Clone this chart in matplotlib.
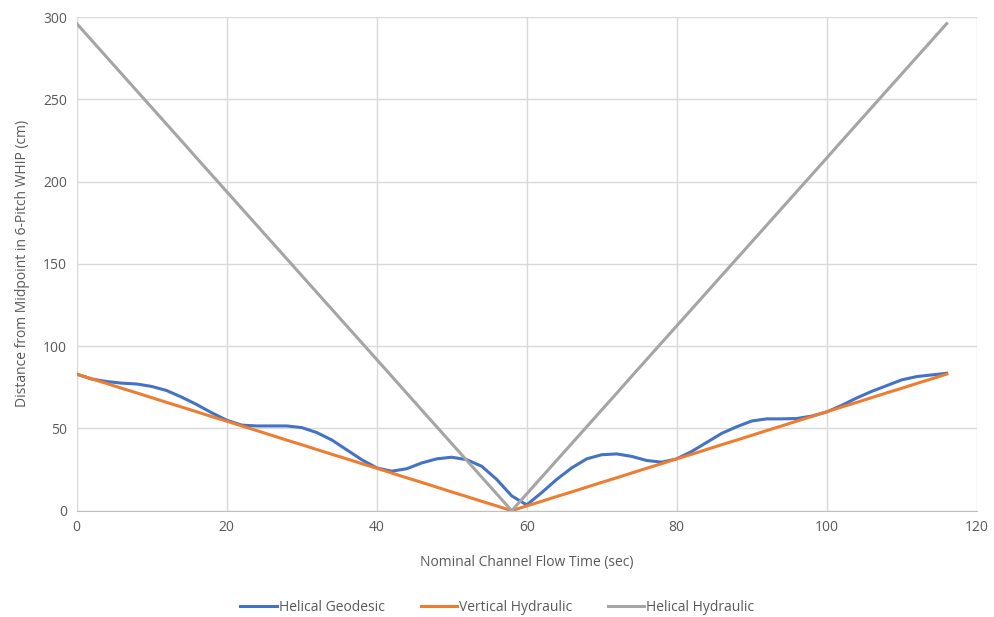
import matplotlib
matplotlib.use("Agg")
import matplotlib.pyplot as plt

plt.rcParams['font.family'] = ['Open Sans', 'DejaVu Sans']

time_sec = list(range(0, 117, 2))

helical_geodesic = [83, 80, 78.5, 77.5, 77, 75.5, 73, 69, 64.5, 59.5,
                    55, 52, 51.5, 51.5, 51.5, 50.5, 47.5, 43, 37, 31,
                    26, 24, 25.5, 29, 31.5, 32.5, 31, 27, 19, 9,
                    3.5, 11, 19, 26, 31.5, 34, 34.5, 33, 30.5, 29.5,
                    31.5, 36, 41.5, 47, 51, 54.5, 55.8, 55.8, 56, 57.5,
                    60, 64, 68.5, 72.5, 76, 79.5, 81.5, 82.5, 83.5]

vertical_hydraulic = [83, 80.1, 77.3, 74.4, 71.6, 68.7, 65.8, 63, 60.1, 57.2,
                      54.4, 51.5, 48.7, 45.8, 42.9, 40.1, 37.2, 34.3, 31.5, 28.6,
                      25.8, 22.9, 20, 17.2, 14.3, 11.4, 8.6, 5.7, 2.9, 0,
                      2.9, 5.7, 8.6, 11.4, 14.3, 17.2, 20, 22.9, 25.8, 28.6,
                      31.5, 34.3, 37.2, 40.1, 42.9, 45.8, 48.7, 51.5, 54.4, 57.2,
                      60.1, 63, 65.8, 68.7, 71.6, 74.4, 77.3, 80.1, 83]

helical_hydraulic = [296, 285.8, 275.6, 265.4, 255.2, 245, 234.8, 224.6, 214.3, 204.1,
                     193.9, 183.7, 173.5, 163.3, 153.1, 142.9, 132.7, 122.5, 112.3, 102.1,
                     91.9, 81.7, 71.4, 61.2, 51, 40.8, 30.6, 20.4, 10.2, 0,
                     10.2, 20.4, 30.6, 40.8, 51, 61.2, 71.4, 81.7, 91.9, 102.1,
                     112.3, 122.5, 132.7, 142.9, 153.1, 163.3, 173.5, 183.7, 193.9, 204.1,
                     214.3, 224.6, 234.8, 245, 255.2, 265.4, 275.6, 285.8, 296]

x_ticks = [0, 20, 40, 60, 80, 100, 120]
y_ticks = [0, 50, 100, 150, 200, 250, 300]

fig = plt.figure(figsize=(9.95, 6.17), dpi=100)
ax = fig.add_axes([0.0771, 0.1723, 0.9045, 0.8001])

lw = 2.2
ax.plot(time_sec, helical_geodesic, color='#4472C4', lw=lw, label='Helical Geodesic', zorder=3)
ax.plot(time_sec, vertical_hydraulic, color='#ED7D31', lw=lw, label='Vertical Hydraulic', zorder=3)
ax.plot(time_sec, helical_hydraulic, color='#A5A5A5', lw=lw, label='Helical Hydraulic', zorder=3)

ax.set_xlim(0, 120)
ax.set_ylim(0, 300)
ax.set_xticks(x_ticks)
ax.set_yticks(y_ticks)
ax.grid(True, color='#D9D9D9', lw=1)
ax.set_axisbelow(True)
for s in ['top', 'right', 'left']:
    ax.spines[s].set_visible(False)
ax.spines['bottom'].set_color('#BFBFBF')
ax.tick_params(length=0, labelsize=10, colors='#595959', pad=7)

ax.set_xlabel('Nominal Channel Flow Time (sec)', fontsize=10, color='#595959', labelpad=14)
ax.set_ylabel('Distance from Midpoint in 6-Pitch WHIP (cm)', fontsize=10, color='#595959', labelpad=9)

leg = fig.legend(loc='center', bbox_to_anchor=(0.5, 0.016), ncol=3, frameon=False,
                 fontsize=10, handlelength=2.6, columnspacing=2.6, handletextpad=0.15)
for t in leg.get_texts():
    t.set_color('#595959')

fig.savefig('out.png', dpi=100)
